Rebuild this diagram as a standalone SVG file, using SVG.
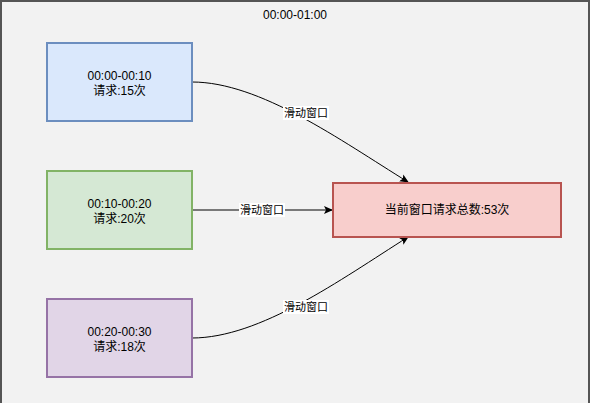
<svg xmlns="http://www.w3.org/2000/svg" width="592" height="403" viewBox="0 0 592 403">
<style>
text{font-family:"Liberation Sans","Noto Sans CJK SC",Arial,sans-serif;font-size:12px;fill:#000;text-anchor:middle}
.lbl{font-size:11px}
.edge{fill:none;stroke:#000;stroke-width:1}
</style>
<defs>
<marker id="arr" markerWidth="10" markerHeight="10" refX="8" refY="5" orient="auto" markerUnits="userSpaceOnUse">
<path d="M0,1 L9,5 L0,9 L2,5 Z" fill="#000"/>
</marker>
</defs>
<g id="container">
<rect x="1" y="1" width="588" height="410" fill="#f2f2f2" stroke="#555" stroke-width="2"/>
<text x="295" y="19">00:00-01:00</text>
</g>
<g id="connectors">
<path class="edge" d="M192,82 C260,82 340,140 408,182" marker-end="url(#arr)"/>
<path class="edge" d="M192,210 L332,210" marker-end="url(#arr)"/>
<path class="edge" d="M192,338 C260,338 340,280 408,237" marker-end="url(#arr)"/>
<rect x="283" y="106" width="46" height="14" fill="#fff"/>
<text class="lbl" x="306" y="117">滑动窗口</text>
<rect x="239" y="203" width="46" height="14" fill="#fff"/>
<text class="lbl" x="262" y="214">滑动窗口</text>
<rect x="283" y="300" width="46" height="14" fill="#fff"/>
<text class="lbl" x="306" y="311">滑动窗口</text>
</g>
<g id="n1">
<rect x="47" y="43" width="145" height="78" fill="#dae8fc" stroke="#6c8ebf" stroke-width="2"/>
<text x="119.5" y="80">00:00-00:10</text>
<text x="119.5" y="95">请求:15次</text>
</g>
<g id="n2">
<rect x="47" y="171" width="145" height="78" fill="#d5e8d4" stroke="#82b366" stroke-width="2"/>
<text x="119.5" y="208">00:10-00:20</text>
<text x="119.5" y="223">请求:20次</text>
</g>
<g id="n3">
<rect x="47" y="299" width="145" height="78" fill="#e1d5e7" stroke="#9673a6" stroke-width="2"/>
<text x="119.5" y="336">00:20-00:30</text>
<text x="119.5" y="351">请求:18次</text>
</g>
<g id="total">
<rect x="333" y="183" width="228" height="54" fill="#f8cecc" stroke="#b85450" stroke-width="2"/>
<text x="447" y="214">当前窗口请求总数:53次</text>
</g>
</svg>
